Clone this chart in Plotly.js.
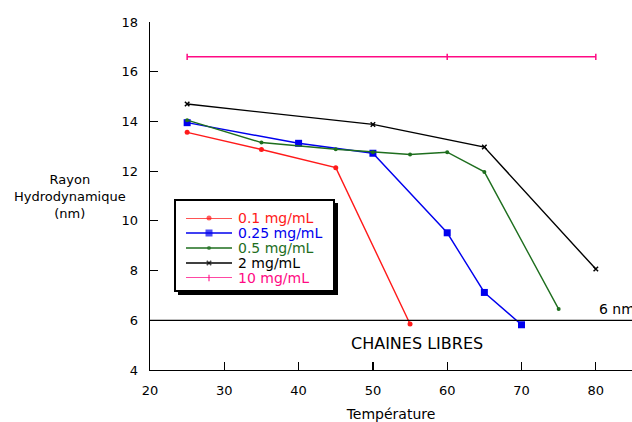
<!DOCTYPE html>
<html>
<head>
<meta charset="utf-8">
<script src="https://cdn.plot.ly/plotly-3.0.1.min.js"></script>
<style>html,body{margin:0;padding:0;background:#fff;}#chart{width:632px;height:422px;}</style>
</head>
<body>
<div id="chart"></div>
<script>
// ---- data ----
const seriesNames = ["0.1 mg/mL", "0.25 mg/mL", "0.5 mg/mL", "2 mg/mL", "10 mg/mL"];
const temp_01 = [25, 35, 45, 55];
const rh_01 = [13.56, 12.87, 12.14, 5.85];
const temp_025 = [25, 40, 50, 60, 65, 70];
const rh_025 = [13.95, 13.12, 12.72, 9.52, 7.12, 5.82];
const temp_05 = [25, 35, 45, 50, 55, 60, 65, 75];
const rh_05 = [14.05, 13.15, 12.88, 12.76, 12.67, 12.76, 11.97, 6.45];
const temp_2 = [25, 50, 65, 80];
const rh_2 = [14.7, 13.88, 12.97, 8.06];
const temp_10 = [25, 60, 80];
const rh_10 = [16.6, 16.6, 16.6];
const xTicks = [20, 30, 40, 50, 60, 70, 80];
const yTicks = [4, 6, 8, 10, 12, 14, 16, 18];
const freeChainLimit = 6;

// ---- styles ----
const colors = ["#ff1a1a", "#0000ee", "#1e6e1e", "#000000", "#ff0a84"];
const symbols = ["circle", "square", "circle", "x-thin", "line-ns"];
const sizes = [5, 7, 4, 4.5, 4.5];
const FONT = "DejaVu Sans, Arial, sans-serif";

const xs = [temp_01, temp_025, temp_05, temp_2, temp_10];
const ys = [rh_01, rh_025, rh_05, rh_2, rh_10];

const W = 482, H = 348;
function px2x(p) { return (p - 150) / W; }
function py2y(p) { return (370 - p) / H; }

const traces = [];
xs.forEach((x, i) => {
  traces.push({
    type: "scatter", mode: "lines+markers", x: x, y: ys[i], name: seriesNames[i],
    showlegend: false, cliponaxis: false,
    line: {color: colors[i], width: 1.4},
    marker: {symbol: symbols[i], size: sizes[i], color: colors[i],
             line: {color: colors[i], width: (i >= 3 ? 1.5 : 0)}}
  });
});

// custom legend: samples on an overlay axis, labels as annotations
const legendRows = [218, 233, 248, 263, 278];
const annotations = [];
seriesNames.forEach((n, i) => {
  traces.push({
    type: "scatter", mode: "lines+markers", x: [0, 0.5, 1], y: [4 - i, 4 - i, 4 - i],
    xaxis: "x2", yaxis: "y2", showlegend: false, hoverinfo: "skip", cliponaxis: false,
    line: {color: colors[i], width: 1.4},
    marker: {symbol: symbols[i], size: [0, sizes[i], 0], color: colors[i],
             line: {color: colors[i], width: (i >= 3 ? 1.5 : 0)}}
  });
  annotations.push({xref: "paper", yref: "paper", x: px2x(236), y: py2y(legendRows[i]), text: n, showarrow: false,
    xanchor: "left", yanchor: "middle", font: {family: FONT, size: 14, color: colors[i]}});
});

annotations.push(
  {xref: "paper", yref: "paper", x: -0.166, y: 0.5, text: "Rayon<br>Hydrodynamique<br>(nm)",
   showarrow: false, xanchor: "center", yanchor: "middle", font: {family: FONT, size: 13, color: "#000"}},
  {xref: "x", yref: "y", x: 80.2, y: freeChainLimit, text: "6 nm", showarrow: false,
   xanchor: "left", yanchor: "bottom", yshift: 1, font: {family: FONT, size: 14, color: "#000"}},
  {xref: "x", yref: "y", x: 56.0, y: 5.05, text: "CHAINES LIBRES", showarrow: false,
   xanchor: "center", yanchor: "middle", font: {family: FONT, size: 16, color: "#000"}}
);

const shapes = [
  {type: "line", xref: "paper", yref: "y", x0: 0, x1: 1, y0: freeChainLimit, y1: freeChainLimit,
   line: {color: "#000", width: 1.2}},
  // legend shadow
  {type: "rect", xref: "paper", yref: "paper", x0: px2x(178), x1: px2x(338), y0: py2y(295), y1: py2y(203),
   fillcolor: "#000", line: {width: 0}, layer: "below"},
  // legend box
  {type: "rect", xref: "paper", yref: "paper", x0: px2x(175), x1: px2x(334), y0: py2y(291), y1: py2y(200),
   fillcolor: "#fff", line: {color: "#000", width: 2}, layer: "below"}
];

const layout = {
  width: 632, height: 422,
  margin: {l: 150, r: 0, t: 22, b: 52, pad: 0},
  paper_bgcolor: "#fff", plot_bgcolor: "rgba(0,0,0,0)",
  showlegend: false,
  font: {family: FONT, size: 13, color: "#000"},
  xaxis: {
    range: [20, 84.87], tickvals: xTicks, ticktext: xTicks.map(String),
    showline: true, linecolor: "#000", linewidth: 1.3, ticks: "inside", ticklen: 8, tickwidth: 1.2, tickcolor: "#000",
    showgrid: false, zeroline: false, ticklabelstandoff: 8,
    title: {text: "Température", font: {family: FONT, size: 14}, standoff: 14},
    automargin: false, fixedrange: true
  },
  yaxis: {
    range: [4, 18], tickvals: yTicks, ticktext: yTicks.map(String),
    showline: true, linecolor: "#000", linewidth: 1.3, ticks: "inside", ticklen: 8, tickwidth: 1.2, tickcolor: "#000",
    showgrid: false, zeroline: false, ticklabelstandoff: 8,
    automargin: false, fixedrange: true
  },
  xaxis2: {domain: [px2x(186), px2x(232)], range: [0, 1], anchor: "y2", visible: false, fixedrange: true},
  yaxis2: {domain: [py2y(278), py2y(218)], range: [0, 4], anchor: "x2", visible: false, fixedrange: true},
  shapes: shapes,
  annotations: annotations
};

Plotly.newPlot("chart", traces, layout, {staticPlot: true, displayModeBar: false});
</script>
</body>
</html>
